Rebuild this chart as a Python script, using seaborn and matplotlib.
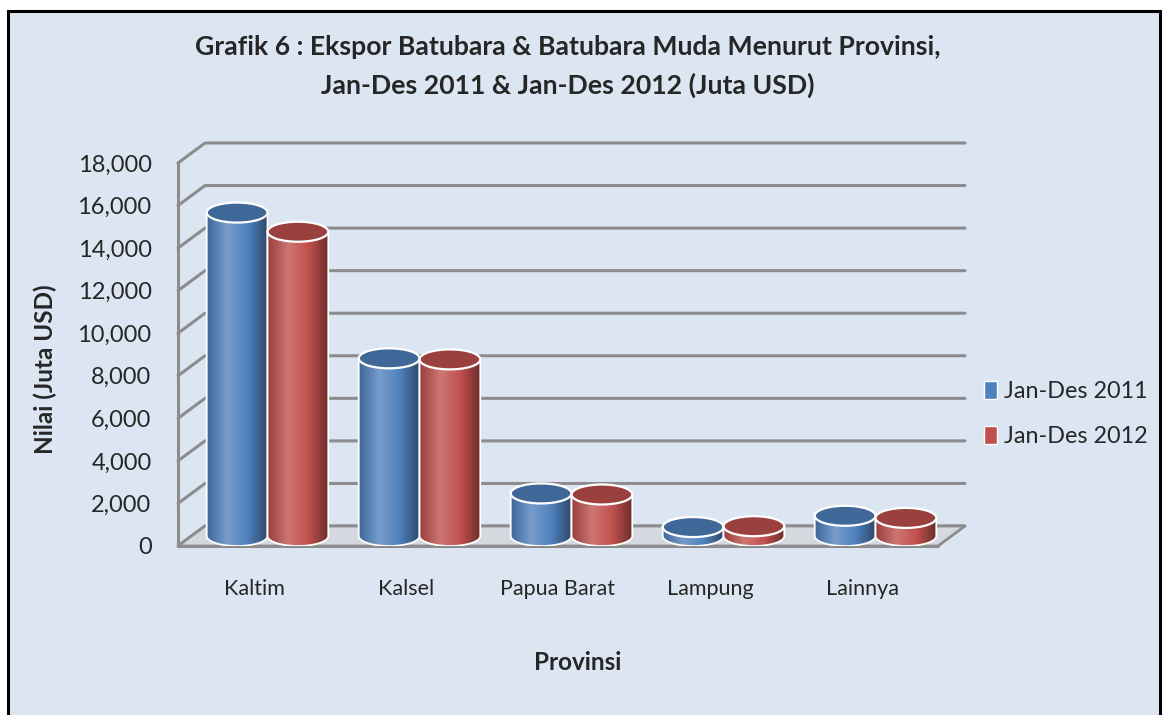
import numpy as np
import pandas as pd
import seaborn as sns
import matplotlib.pyplot as plt
from matplotlib.colors import LinearSegmentedColormap, to_rgb
from matplotlib.patches import Ellipse, PathPatch, Polygon, Rectangle
from matplotlib.path import Path

# data (Juta USD)
provinsi = ["Kaltim", "Kalsel", "Papua Barat", "Lampung", "Lainnya"]
nilai_2011 = [15200, 8350, 2000, 420, 950]
nilai_2012 = [14300, 8300, 1950, 460, 850]
periode = ["Jan-Des 2011", "Jan-Des 2012"]
yticks = list(range(0, 18001, 2000))

df = pd.DataFrame({
    "Provinsi": provinsi * 2,
    "Nilai": nilai_2011 + nilai_2012,
    "Periode": [periode[0]] * len(provinsi) + [periode[1]] * len(provinsi),
})

BG = "#DCE6F2"
GRID = "#8C8C8C"
warna = {periode[0]: "#4F81BD", periode[1]: "#C0504D"}

sns.set_style("white")
plt.rcParams["font.family"] = ["Lato", "DejaVu Sans"]

W, H = 1166, 715
fig = plt.figure(figsize=(W / 100, H / 100), dpi=100)
fig.patches.append(Rectangle((8 / W, -0.02), 1152 / W, 1.02 - 11 / H,
                             transform=fig.transFigure, facecolor=BG,
                             edgecolor="black", lw=2.2, zorder=-10))
ax = fig.add_axes([178 / W, 1 - 546 / H, 760 / W, 383 / H])
ax.set_facecolor("none")

sns.barplot(data=df, x="Provinsi", y="Nilai", hue="Periode", palette=warna,
            width=0.8, saturation=1, ax=ax, zorder=3)
bars = sorted([p for p in ax.patches if p.get_width() > 0],
              key=lambda p: p.get_x())

ax.set_xlim(-0.5, 4.5)
ax.set_ylim(0, 18000)
sns.despine(ax=ax, left=True, bottom=True)

# pseudo 3d: back wall offset
dx = 27 / 152
dy = 20 * 18000 / 383
ry = dy / 2

floor = Polygon([(-0.5, 0), (4.5, 0), (4.5 + dx, dy), (-0.5 + dx, dy)],
                closed=True, facecolor="#D5D9DF", edgecolor=GRID, lw=2,
                zorder=1.5, clip_on=False)
ax.add_patch(floor)
for yt in yticks:
    ax.plot([-0.5, -0.5 + dx, 4.5 + dx], [yt, yt + dy, yt + dy],
            color=GRID, lw=2.2, clip_on=False, zorder=1)
ax.plot([-0.5, -0.5], [0, 18000], color=GRID, lw=2.2, clip_on=False, zorder=2)
ax.plot([-0.5, 4.5], [0, 0], color=GRID, lw=2.2, clip_on=False, zorder=2)

# cylinders built on the seaborn bars
t = np.linspace(np.pi, 2 * np.pi, 40)
grad = np.linspace(0, 1, 128)[None, :]
for i, p in enumerate(bars):
    x0 = p.get_x() + dx / 2
    w = p.get_width()
    h = p.get_height()
    base = dy / 2
    cx = x0 + w / 2
    col = np.array(to_rgb(p.get_facecolor()))
    p.set_x(x0)
    p.set_y(base)
    z = 3 + i * 0.1
    p.set_zorder(z)
    p.set_edgecolor("none")

    verts = [(x0, base + h)]
    verts += [(cx + w / 2 * np.cos(a), base + ry * np.sin(a)) for a in t]
    verts += [(x0 + w, base + h), (x0, base + h)]
    codes = [Path.MOVETO] + [Path.LINETO] * (len(verts) - 2) + [Path.CLOSEPOLY]
    body = PathPatch(Path(verts, codes), facecolor="none", edgecolor="white",
                     lw=1.3, zorder=z + 0.02)
    ax.add_patch(body)

    light = col + (1 - col) * 0.22
    cmap = LinearSegmentedColormap.from_list(
        "cyl", [col * 0.8, light, col, col * 0.55])
    im = ax.imshow(grad, extent=[x0, x0 + w, base - ry, base + h],
                   aspect="auto", cmap=cmap, zorder=z + 0.01,
                   interpolation="bicubic")
    im.set_clip_path(body)

    ax.add_patch(Ellipse((cx, base + h), w, 2 * ry, facecolor=col * 0.8,
                         edgecolor="white", lw=1.6, zorder=z + 0.03))

ax.set_xlim(-0.5, 4.5)
ax.set_ylim(0, 18000)

ax.set_yticks(yticks)
ax.set_yticklabels([f"{v:,}" for v in yticks])
ax.tick_params(axis="y", length=7, width=2, color=GRID, pad=12, labelsize=17)
ax.set_xticks(range(len(provinsi)))
ax.set_xticks(np.arange(-0.5, len(provinsi)), minor=True)
ax.tick_params(axis="x", which="major", length=0, pad=24, labelsize=15.5)
ax.tick_params(axis="x", which="minor", length=8, width=2, color=GRID)
ax.set_xlabel("")
ax.set_ylabel("")

handles, labels = ax.get_legend_handles_labels()
for hd in handles:
    hd.set_edgecolor("white")
ax.legend(handles, labels, loc="center left",
          bbox_to_anchor=(963 / W, 1 - 414 / H), bbox_transform=fig.transFigure,
          frameon=False, fontsize=16.8, handlelength=0.55, handleheight=0.8,
          handletextpad=0.3, labelspacing=1.0)

fig.text(568 / W, 1 - 47 / H,
         "Grafik 6 : Ekspor Batubara & Batubara Muda Menurut Provinsi,",
         ha="center", va="center", fontsize=19.2, fontweight="bold")
fig.text(568 / W, 1 - 85 / H, "Jan-Des 2011 & Jan-Des 2012 (Juta USD)",
         ha="center", va="center", fontsize=19.2, fontweight="bold")
fig.text(45 / W, 1 - 369 / H, "Nilai (Juta USD)", rotation=90, ha="center",
         va="center", fontsize=17.5, fontweight="bold")
fig.text(578 / W, 1 - 662 / H, "Provinsi", ha="center", va="center",
         fontsize=17.5, fontweight="bold")

fig.savefig("out.png", dpi=100, facecolor="white")
